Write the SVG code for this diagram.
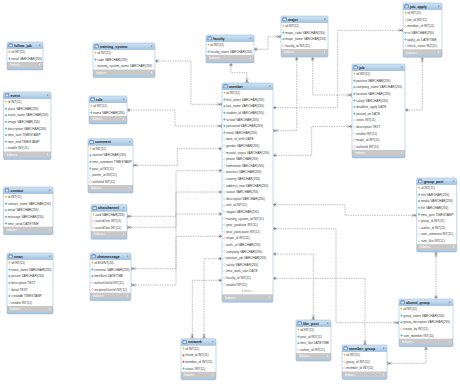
<svg xmlns="http://www.w3.org/2000/svg" width="460" height="384" viewBox="0 0 460 384">
<style>
.bg{fill:#fff}
.hd{fill:url(#hg)}
.bd{fill:none;stroke:#8fb0cf;stroke-width:0.5}
.ft{fill:#c8c8c8}
.bs{fill:#a9c8e4}
.tt{font:bold 3.6px "Liberation Sans",Arial,sans-serif;fill:#1b1b1b}
.r{font:3.15px "Liberation Sans",Arial,sans-serif;fill:#3a3a3a}
.fx{font:3px "Liberation Sans",Arial,sans-serif;fill:#fff}
.mr{font:3px "Liberation Sans",Arial,sans-serif;fill:#9a9a9a;text-anchor:middle}
.cn path{fill:none;stroke:#8a8a8a;stroke-width:0.55;stroke-dasharray:1.5 0.9;marker-start:url(#mn);marker-end:url(#m1)}
</style>
<defs>
<linearGradient id="hg" gradientUnits="userSpaceOnUse" x1="0" y1="0" x2="0" y2="6.7"><stop offset="0" stop-color="#d5e6f4"/><stop offset="1" stop-color="#9fc2e2"/></linearGradient>
<g id="ti"><rect x="1.7" y="1.6" width="3.8" height="3.4" rx="0.4" fill="#5b8fc7" stroke="#2f5f95" stroke-width="0.25"/><rect x="2.3" y="2.5" width="2.6" height="2" fill="#e8f1fa"/></g>
<path id="dd" d="M-0.9,-0.5 H0.9 L0,0.6z" fill="#4a6a8a"/>
<path id="ar" d="M-0.5,-1 L0.6,0 L-0.5,1z" fill="#fff"/>
<g id="k"><circle cx="0" cy="-0.6" r="0.7" fill="#f0c419" stroke="#b8900a" stroke-width="0.2"/><rect x="-0.3" y="-0.2" width="0.6" height="1.4" fill="#f0c419"/></g>
<path id="c" d="M0,-1.1 L1.1,0 L0,1.1 L-1.1,0z" fill="#4fc3d6" stroke="#2a9fb3" stroke-width="0.25"/>
<path id="o" d="M0,-1.1 L1.1,0 L0,1.1 L-1.1,0z" fill="#fff" stroke="#4fc3d6" stroke-width="0.35"/>
<path id="f" d="M0,-1.1 L1.1,0 L0,1.1 L-1.1,0z" fill="#e06060" stroke="#b03030" stroke-width="0.25"/>
<path id="r" d="M0,-1.1 L1.1,0 L0,1.1 L-1.1,0z" fill="#fff" stroke="#e06060" stroke-width="0.35"/>
<marker id="mn" markerUnits="userSpaceOnUse" markerWidth="10" markerHeight="10" viewBox="-5 -5 10 10" refX="0" refY="0" orient="auto-start-reverse" overflow="visible"><path d="M-3,0 L0,-1.6 M-3,0 L0,1.6 M-3,0 H0 M-4,-1.6 V1.6" fill="none" stroke="#555" stroke-width="0.45"/></marker>
<marker id="m1" markerUnits="userSpaceOnUse" markerWidth="10" markerHeight="10" viewBox="-5 -5 10 10" refX="0" refY="0" orient="auto" overflow="visible"><path d="M-1.5,-1.6 V1.6 M-2.8,-1.6 V1.6 M-3,0 H0" fill="none" stroke="#555" stroke-width="0.45"/></marker>
</defs>
<rect width="460" height="384" fill="#fff"/>

<g id="connectors" class="cn">
<path d="M222,104.3 H191 V61 H155"/>
<path d="M222,126 H175 V110 H127"/>
<path d="M247,83 V72.7 H231 V62.9"/>
<path d="M281,36.7 H268 V49.3 H254"/>
<path d="M273,130.7 H296.7 V57.1"/>
<path d="M352,95 H312.7 V57.1"/>
<path d="M352,126.5 H311.7 V155.3 H273"/>
<path d="M422.3,57.3 V110 H405"/>
<path d="M403,30.3 H337.7 V107.7 H273"/>
<path d="M133,165.3 H177.3 V148.7 H222"/>
<path d="M127,216.3 H176 V170.7 H222"/>
<path d="M127,227.3 H176 V192 H222"/>
<path d="M131,268.7 H176 V214 H222"/>
<path d="M131,285 H176 V236.3 H222"/>
<path d="M192.3,338.7 V280.3 H222"/>
<path d="M204,338.7 V258.7 H222"/>
<path d="M313.3,320 V254 H273"/>
<path d="M365,345 V278.3 H273"/>
<path d="M399,322.7 H336 V228.7 H273"/>
<path d="M416.7,215.3 H345 V204.7 H273"/>
<path d="M436,252.1 V299"/>
<path d="M387,363.3 H426 V346.7"/>
</g>

<g id="follow_job" transform="translate(7,42)">
<rect class="bg" width="36" height="27.9" rx="1.5"/>
<rect class="bs" y="24.4" width="36" height="3.5" rx="1.5"/><rect class="ft" y="19.9" width="36" height="6"/>
<rect class="hd" width="36" height="6.7" rx="1.5"/><rect class="hd" y="3" width="36" height="3.7"/>
<use href="#ti"/><text class="tt" x="7" y="4.8">follow_job</text><use href="#dd" x="32.8" y="3.3"/>
<use href="#k" x="2.4" y="10"/><text class="r" x="4.3" y="11.1">id INT(11)</text>
<use href="#c" x="2.4" y="16.6"/><text class="r" x="4.3" y="17.7">email VARCHAR(255)</text>
<text class="fx" x="3" y="24.1">Indexes</text><use href="#ar" x="32.8" y="22.9"/>
<rect class="bd" width="36" height="27.9" rx="1.5"/>
</g>

<g id="event" transform="translate(3.5,92)">
<rect class="bg" width="47.5" height="67.5" rx="1.5"/>
<rect class="bs" y="64" width="47.5" height="3.5" rx="1.5"/><rect class="ft" y="59.5" width="47.5" height="6"/>
<rect class="hd" width="47.5" height="6.7" rx="1.5"/><rect class="hd" y="3" width="47.5" height="3.7"/>
<use href="#ti"/><text class="tt" x="7" y="4.8">event</text><use href="#dd" x="44.3" y="3.3"/>
<use href="#k" x="2.4" y="10"/><text class="r" x="4.3" y="11.1">id INT(11)</text>
<use href="#c" x="2.4" y="16.6"/><text class="r" x="4.3" y="17.7">place VARCHAR(255)</text>
<use href="#c" x="2.4" y="23.2"/><text class="r" x="4.3" y="24.3">event_name VARCHAR(255)</text>
<use href="#c" x="2.4" y="29.8"/><text class="r" x="4.3" y="30.9">image VARCHAR(255)</text>
<use href="#c" x="2.4" y="36.4"/><text class="r" x="4.3" y="37.5">description VARCHAR(255)</text>
<use href="#c" x="2.4" y="43"/><text class="r" x="4.3" y="44.1">time_start TIMESTAMP</text>
<use href="#c" x="2.4" y="49.6"/><text class="r" x="4.3" y="50.7">time_end TIMESTAMP</text>
<use href="#o" x="2.4" y="56.2"/><text class="r" x="4.3" y="57.3">enable INT(11)</text>
<text class="fx" x="3" y="63.7">Indexes</text><use href="#ar" x="44.3" y="62.5"/>
<rect class="bd" width="47.5" height="67.5" rx="1.5"/>
</g>

<g id="training_system" transform="translate(93,43)">
<rect class="bg" width="62" height="34.5" rx="1.5"/>
<rect class="bs" y="31" width="62" height="3.5" rx="1.5"/><rect class="ft" y="26.5" width="62" height="6"/>
<rect class="hd" width="62" height="6.7" rx="1.5"/><rect class="hd" y="3" width="62" height="3.7"/>
<use href="#ti"/><text class="tt" x="7" y="4.8">training_system</text><use href="#dd" x="58.8" y="3.3"/>
<use href="#k" x="2.4" y="10"/><text class="r" x="4.3" y="11.1">id INT(11)</text>
<use href="#c" x="2.4" y="16.6"/><text class="r" x="4.3" y="17.7">code VARCHAR(255)</text>
<use href="#o" x="2.4" y="23.2"/><text class="r" x="4.3" y="24.3">training_system_name VARCHAR(255)</text>
<text class="fx" x="3" y="30.7">Indexes</text><use href="#ar" x="58.8" y="29.5"/>
<rect class="bd" width="62" height="34.5" rx="1.5"/>
</g>

<g id="faculty" transform="translate(206,35)">
<rect class="bg" width="48" height="27.9" rx="1.5"/>
<rect class="bs" y="24.4" width="48" height="3.5" rx="1.5"/><rect class="ft" y="19.9" width="48" height="6"/>
<rect class="hd" width="48" height="6.7" rx="1.5"/><rect class="hd" y="3" width="48" height="3.7"/>
<use href="#ti"/><text class="tt" x="7" y="4.8">faculty</text><use href="#dd" x="44.8" y="3.3"/>
<use href="#k" x="2.4" y="10"/><text class="r" x="4.3" y="11.1">id INT(11)</text>
<use href="#c" x="2.4" y="16.6"/><text class="r" x="4.3" y="17.7">faculty_name VARCHAR(255)</text>
<text class="fx" x="3" y="24.1">Indexes</text><use href="#ar" x="44.8" y="22.9"/>
<rect class="bd" width="48" height="27.9" rx="1.5"/>
</g>

<g id="major" transform="translate(281,16)">
<rect class="bg" width="47" height="41.1" rx="1.5"/>
<rect class="bs" y="37.6" width="47" height="3.5" rx="1.5"/><rect class="ft" y="33.1" width="47" height="6"/>
<rect class="hd" width="47" height="6.7" rx="1.5"/><rect class="hd" y="3" width="47" height="3.7"/>
<use href="#ti"/><text class="tt" x="7" y="4.8">major</text><use href="#dd" x="43.8" y="3.3"/>
<use href="#k" x="2.4" y="10"/><text class="r" x="4.3" y="11.1">id INT(11)</text>
<use href="#c" x="2.4" y="16.6"/><text class="r" x="4.3" y="17.7">major_code VARCHAR(255)</text>
<use href="#c" x="2.4" y="23.2"/><text class="r" x="4.3" y="24.3">major_name VARCHAR(255)</text>
<use href="#r" x="2.4" y="29.8"/><text class="r" x="4.3" y="30.9">faculty_id INT(11)</text>
<text class="fx" x="3" y="37.3">Indexes</text><use href="#ar" x="43.8" y="36.1"/>
<rect class="bd" width="47" height="41.1" rx="1.5"/>
</g>

<g id="job_apply" transform="translate(403,3)">
<rect class="bg" width="39" height="54.3" rx="1.5"/>
<rect class="bs" y="50.8" width="39" height="3.5" rx="1.5"/><rect class="ft" y="46.3" width="39" height="6"/>
<rect class="hd" width="39" height="6.7" rx="1.5"/><rect class="hd" y="3" width="39" height="3.7"/>
<use href="#ti"/><text class="tt" x="7" y="4.8">job_apply</text><use href="#dd" x="35.8" y="3.3"/>
<use href="#k" x="2.4" y="10"/><text class="r" x="4.3" y="11.1">id INT(11)</text>
<use href="#r" x="2.4" y="16.6"/><text class="r" x="4.3" y="17.7">job_id INT(11)</text>
<use href="#r" x="2.4" y="23.2"/><text class="r" x="4.3" y="24.3">member_id INT(11)</text>
<use href="#c" x="2.4" y="29.8"/><text class="r" x="4.3" y="30.9">cv VARCHAR(255)</text>
<use href="#c" x="2.4" y="36.4"/><text class="r" x="4.3" y="37.5">apply_on DATETIME</text>
<use href="#o" x="2.4" y="43"/><text class="r" x="4.3" y="44.1">check_status INT(11)</text>
<text class="fx" x="3" y="50.5">Indexes</text><use href="#ar" x="35.8" y="49.3"/>
<rect class="bd" width="39" height="54.3" rx="1.5"/>
</g>

<g id="job" transform="translate(352,64)">
<rect class="bg" width="53" height="93.9" rx="1.5"/>
<rect class="bs" y="90.4" width="53" height="3.5" rx="1.5"/><rect class="ft" y="85.9" width="53" height="6"/>
<rect class="hd" width="53" height="6.7" rx="1.5"/><rect class="hd" y="3" width="53" height="3.7"/>
<use href="#ti"/><text class="tt" x="7" y="4.8">job</text><use href="#dd" x="49.8" y="3.3"/>
<use href="#k" x="2.4" y="10"/><text class="r" x="4.3" y="11.1">id INT(11)</text>
<use href="#c" x="2.4" y="16.6"/><text class="r" x="4.3" y="17.7">position VARCHAR(255)</text>
<use href="#c" x="2.4" y="23.2"/><text class="r" x="4.3" y="24.3">company_name VARCHAR(255)</text>
<use href="#c" x="2.4" y="29.8"/><text class="r" x="4.3" y="30.9">location VARCHAR(255)</text>
<use href="#c" x="2.4" y="36.4"/><text class="r" x="4.3" y="37.5">salary VARCHAR(255)</text>
<use href="#c" x="2.4" y="43"/><text class="r" x="4.3" y="44.1">deadline_apply DATE</text>
<use href="#c" x="2.4" y="49.6"/><text class="r" x="4.3" y="50.7">posted_on DATE</text>
<use href="#o" x="2.4" y="56.2"/><text class="r" x="4.3" y="57.3">views INT(11)</text>
<use href="#o" x="2.4" y="62.8"/><text class="r" x="4.3" y="63.9">description TEXT</text>
<use href="#o" x="2.4" y="69.4"/><text class="r" x="4.3" y="70.5">enable INT(11)</text>
<use href="#r" x="2.4" y="76"/><text class="r" x="4.3" y="77.1">major_id INT(11)</text>
<use href="#r" x="2.4" y="82.6"/><text class="r" x="4.3" y="83.7">authorId INT(11)</text>
<text class="fx" x="3" y="90.1">Indexes</text><use href="#ar" x="49.8" y="88.9"/>
<rect class="bd" width="53" height="93.9" rx="1.5"/>
</g>

<g id="role" transform="translate(89,96)">
<rect class="bg" width="38" height="27.9" rx="1.5"/>
<rect class="bs" y="24.4" width="38" height="3.5" rx="1.5"/><rect class="ft" y="19.9" width="38" height="6"/>
<rect class="hd" width="38" height="6.7" rx="1.5"/><rect class="hd" y="3" width="38" height="3.7"/>
<use href="#ti"/><text class="tt" x="7" y="4.8">role</text><use href="#dd" x="34.8" y="3.3"/>
<use href="#k" x="2.4" y="10"/><text class="r" x="4.3" y="11.1">id INT(11)</text>
<use href="#c" x="2.4" y="16.6"/><text class="r" x="4.3" y="17.7">name VARCHAR(255)</text>
<text class="fx" x="3" y="24.1">Indexes</text><use href="#ar" x="34.8" y="22.9"/>
<rect class="bd" width="38" height="27.9" rx="1.5"/>
</g>

<g id="member" transform="translate(222,83)">
<rect class="bg" width="51" height="219.3" rx="1.5"/>
<rect class="bs" y="215.8" width="51" height="3.5" rx="1.5"/><rect class="ft" y="211.3" width="51" height="6"/>
<rect class="hd" width="51" height="6.7" rx="1.5"/><rect class="hd" y="3" width="51" height="3.7"/>
<use href="#ti"/><text class="tt" x="7" y="4.8">member</text><use href="#dd" x="47.8" y="3.3"/>
<use href="#k" x="2.4" y="10"/><text class="r" x="4.3" y="11.1">id INT(11)</text>
<use href="#c" x="2.4" y="16.6"/><text class="r" x="4.3" y="17.7">first_name VARCHAR(255)</text>
<use href="#c" x="2.4" y="23.2"/><text class="r" x="4.3" y="24.3">last_name VARCHAR(255)</text>
<use href="#c" x="2.4" y="29.8"/><text class="r" x="4.3" y="30.9">student_id VARCHAR(255)</text>
<use href="#c" x="2.4" y="36.4"/><text class="r" x="4.3" y="37.5">school VARCHAR(255)</text>
<use href="#c" x="2.4" y="43"/><text class="r" x="4.3" y="44.1">password VARCHAR(255)</text>
<use href="#c" x="2.4" y="49.6"/><text class="r" x="4.3" y="50.7">email VARCHAR(255)</text>
<use href="#o" x="2.4" y="56.2"/><text class="r" x="4.3" y="57.3">date_of_birth DATE</text>
<use href="#o" x="2.4" y="62.8"/><text class="r" x="4.3" y="63.9">gender VARCHAR(255)</text>
<use href="#o" x="2.4" y="69.4"/><text class="r" x="4.3" y="70.5">marital_status VARCHAR(255)</text>
<use href="#o" x="2.4" y="76"/><text class="r" x="4.3" y="77.1">phone VARCHAR(255)</text>
<use href="#o" x="2.4" y="82.6"/><text class="r" x="4.3" y="83.7">hometown VARCHAR(255)</text>
<use href="#o" x="2.4" y="89.2"/><text class="r" x="4.3" y="90.3">province VARCHAR(255)</text>
<use href="#o" x="2.4" y="95.8"/><text class="r" x="4.3" y="96.9">country VARCHAR(255)</text>
<use href="#o" x="2.4" y="102.4"/><text class="r" x="4.3" y="103.5">address_now VARCHAR(255)</text>
<use href="#o" x="2.4" y="109"/><text class="r" x="4.3" y="110.1">avatar VARCHAR(255)</text>
<use href="#o" x="2.4" y="115.6"/><text class="r" x="4.3" y="116.7">description VARCHAR(255)</text>
<use href="#r" x="2.4" y="122.2"/><text class="r" x="4.3" y="123.3">role_id INT(11)</text>
<use href="#o" x="2.4" y="128.8"/><text class="r" x="4.3" y="129.9">slogan VARCHAR(255)</text>
<use href="#r" x="2.4" y="135.4"/><text class="r" x="4.3" y="136.5">training_system_id INT(11)</text>
<use href="#o" x="2.4" y="142"/><text class="r" x="4.3" y="143.1">year_graduate INT(11)</text>
<use href="#o" x="2.4" y="148.6"/><text class="r" x="4.3" y="149.7">year_participate INT(11)</text>
<use href="#r" x="2.4" y="155.2"/><text class="r" x="4.3" y="156.3">major_id INT(11)</text>
<use href="#o" x="2.4" y="161.8"/><text class="r" x="4.3" y="162.9">work_at VARCHAR(255)</text>
<use href="#o" x="2.4" y="168.4"/><text class="r" x="4.3" y="169.5">company VARCHAR(255)</text>
<use href="#o" x="2.4" y="175"/><text class="r" x="4.3" y="176.1">position_job VARCHAR(255)</text>
<use href="#o" x="2.4" y="181.6"/><text class="r" x="4.3" y="182.7">salary VARCHAR(255)</text>
<use href="#o" x="2.4" y="188.2"/><text class="r" x="4.3" y="189.3">time_work_start DATE</text>
<use href="#r" x="2.4" y="194.8"/><text class="r" x="4.3" y="195.9">faculty_id INT(11)</text>
<use href="#o" x="2.4" y="201.4"/><text class="r" x="4.3" y="202.5">enable INT(11)</text>
<text class="mr" x="25.5" y="209.1">3 more...</text>
<text class="fx" x="3" y="215.5">Indexes</text><use href="#ar" x="47.8" y="214.3"/>
<rect class="bd" width="51" height="219.3" rx="1.5"/>
</g>

<g id="comment" transform="translate(88,138.7)">
<rect class="bg" width="45" height="54.3" rx="1.5"/>
<rect class="bs" y="50.8" width="45" height="3.5" rx="1.5"/><rect class="ft" y="46.3" width="45" height="6"/>
<rect class="hd" width="45" height="6.7" rx="1.5"/><rect class="hd" y="3" width="45" height="3.7"/>
<use href="#ti"/><text class="tt" x="7" y="4.8">comment</text><use href="#dd" x="41.8" y="3.3"/>
<use href="#k" x="2.4" y="10"/><text class="r" x="4.3" y="11.1">id INT(11)</text>
<use href="#c" x="2.4" y="16.6"/><text class="r" x="4.3" y="17.7">content VARCHAR(255)</text>
<use href="#c" x="2.4" y="23.2"/><text class="r" x="4.3" y="24.3">time_comment TIMESTAMP</text>
<use href="#c" x="2.4" y="29.8"/><text class="r" x="4.3" y="30.9">post_id INT(11)</text>
<use href="#o" x="2.4" y="36.4"/><text class="r" x="4.3" y="37.5">parent_id INT(11)</text>
<use href="#r" x="2.4" y="43"/><text class="r" x="4.3" y="44.1">authorId INT(11)</text>
<text class="fx" x="3" y="50.5">Indexes</text><use href="#ar" x="41.8" y="49.3"/>
<rect class="bd" width="45" height="54.3" rx="1.5"/>
</g>

<g id="contact" transform="translate(3.5,187)">
<rect class="bg" width="49.5" height="47.7" rx="1.5"/>
<rect class="bs" y="44.2" width="49.5" height="3.5" rx="1.5"/><rect class="ft" y="39.7" width="49.5" height="6"/>
<rect class="hd" width="49.5" height="6.7" rx="1.5"/><rect class="hd" y="3" width="49.5" height="3.7"/>
<use href="#ti"/><text class="tt" x="7" y="4.8">contact</text><use href="#dd" x="46.3" y="3.3"/>
<use href="#k" x="2.4" y="10"/><text class="r" x="4.3" y="11.1">id INT(11)</text>
<use href="#c" x="2.4" y="16.6"/><text class="r" x="4.3" y="17.7">contact_name VARCHAR(255)</text>
<use href="#c" x="2.4" y="23.2"/><text class="r" x="4.3" y="24.3">email VARCHAR(255)</text>
<use href="#c" x="2.4" y="29.8"/><text class="r" x="4.3" y="30.9">message VARCHAR(255)</text>
<use href="#c" x="2.4" y="36.4"/><text class="r" x="4.3" y="37.5">time_send DATETIME</text>
<text class="fx" x="3" y="43.9">Indexes</text><use href="#ar" x="46.3" y="42.7"/>
<rect class="bd" width="49.5" height="47.7" rx="1.5"/>
</g>

<g id="chatchannel" transform="translate(91,204.7)">
<rect class="bg" width="36" height="34.5" rx="1.5"/>
<rect class="bs" y="31" width="36" height="3.5" rx="1.5"/><rect class="ft" y="26.5" width="36" height="6"/>
<rect class="hd" width="36" height="6.7" rx="1.5"/><rect class="hd" y="3" width="36" height="3.7"/>
<use href="#ti"/><text class="tt" x="7" y="4.8">chatchannel</text><use href="#dd" x="32.8" y="3.3"/>
<use href="#k" x="2.4" y="10"/><text class="r" x="4.3" y="11.1">uuid VARCHAR(255)</text>
<use href="#r" x="2.4" y="16.6"/><text class="r" x="4.3" y="17.7">userIdOne INT(11)</text>
<use href="#r" x="2.4" y="23.2"/><text class="r" x="4.3" y="24.3">userIdTwo INT(11)</text>
<text class="fx" x="3" y="30.7">Indexes</text><use href="#ar" x="32.8" y="29.5"/>
<rect class="bd" width="36" height="34.5" rx="1.5"/>
</g>

<g id="news" transform="translate(7,253)">
<rect class="bg" width="46" height="60.9" rx="1.5"/>
<rect class="bs" y="57.4" width="46" height="3.5" rx="1.5"/><rect class="ft" y="52.9" width="46" height="6"/>
<rect class="hd" width="46" height="6.7" rx="1.5"/><rect class="hd" y="3" width="46" height="3.7"/>
<use href="#ti"/><text class="tt" x="7" y="4.8">news</text><use href="#dd" x="42.8" y="3.3"/>
<use href="#k" x="2.4" y="10"/><text class="r" x="4.3" y="11.1">id INT(11)</text>
<use href="#c" x="2.4" y="16.6"/><text class="r" x="4.3" y="17.7">news_name VARCHAR(255)</text>
<use href="#c" x="2.4" y="23.2"/><text class="r" x="4.3" y="24.3">picture VARCHAR(255)</text>
<use href="#c" x="2.4" y="29.8"/><text class="r" x="4.3" y="30.9">description TEXT</text>
<use href="#o" x="2.4" y="36.4"/><text class="r" x="4.3" y="37.5">detail TEXT</text>
<use href="#c" x="2.4" y="43"/><text class="r" x="4.3" y="44.1">createAt TIMESTAMP</text>
<use href="#o" x="2.4" y="49.6"/><text class="r" x="4.3" y="50.7">enable INT(11)</text>
<text class="fx" x="3" y="57.1">Indexes</text><use href="#ar" x="42.8" y="55.9"/>
<rect class="bd" width="46" height="60.9" rx="1.5"/>
</g>

<g id="chatmessage" transform="translate(90,253)">
<rect class="bg" width="41" height="47.7" rx="1.5"/>
<rect class="bs" y="44.2" width="41" height="3.5" rx="1.5"/><rect class="ft" y="39.7" width="41" height="6"/>
<rect class="hd" width="41" height="6.7" rx="1.5"/><rect class="hd" y="3" width="41" height="3.7"/>
<use href="#ti"/><text class="tt" x="7" y="4.8">chatmessage</text><use href="#dd" x="37.8" y="3.3"/>
<use href="#k" x="2.4" y="10"/><text class="r" x="4.3" y="11.1">id BIGINT(20)</text>
<use href="#c" x="2.4" y="16.6"/><text class="r" x="4.3" y="17.7">contents VARCHAR(255)</text>
<use href="#c" x="2.4" y="23.2"/><text class="r" x="4.3" y="24.3">timeSent DATETIME</text>
<use href="#r" x="2.4" y="29.8"/><text class="r" x="4.3" y="30.9">authorUserId INT(11)</text>
<use href="#r" x="2.4" y="36.4"/><text class="r" x="4.3" y="37.5">recipientUserId INT(11)</text>
<text class="fx" x="3" y="43.9">Indexes</text><use href="#ar" x="37.8" y="42.7"/>
<rect class="bd" width="41" height="47.7" rx="1.5"/>
</g>

<g id="network" transform="translate(181,338.7)">
<rect class="bg" width="35" height="41.1" rx="1.5"/>
<rect class="bs" y="37.6" width="35" height="3.5" rx="1.5"/><rect class="ft" y="33.1" width="35" height="6"/>
<rect class="hd" width="35" height="6.7" rx="1.5"/><rect class="hd" y="3" width="35" height="3.7"/>
<use href="#ti"/><text class="tt" x="7" y="4.8">network</text><use href="#dd" x="31.8" y="3.3"/>
<use href="#k" x="2.4" y="10"/><text class="r" x="4.3" y="11.1">id INT(11)</text>
<use href="#f" x="2.4" y="16.6"/><text class="r" x="4.3" y="17.7">friend_id INT(11)</text>
<use href="#f" x="2.4" y="23.2"/><text class="r" x="4.3" y="24.3">member_id INT(11)</text>
<use href="#c" x="2.4" y="29.8"/><text class="r" x="4.3" y="30.9">status INT(11)</text>
<text class="fx" x="3" y="37.3">Indexes</text><use href="#ar" x="31.8" y="36.1"/>
<rect class="bd" width="35" height="41.1" rx="1.5"/>
</g>

<g id="like_post" transform="translate(296,320)">
<rect class="bg" width="35" height="41.1" rx="1.5"/>
<rect class="bs" y="37.6" width="35" height="3.5" rx="1.5"/><rect class="ft" y="33.1" width="35" height="6"/>
<rect class="hd" width="35" height="6.7" rx="1.5"/><rect class="hd" y="3" width="35" height="3.7"/>
<use href="#ti"/><text class="tt" x="7" y="4.8">like_post</text><use href="#dd" x="31.8" y="3.3"/>
<use href="#k" x="2.4" y="10"/><text class="r" x="4.3" y="11.1">id INT(11)</text>
<use href="#c" x="2.4" y="16.6"/><text class="r" x="4.3" y="17.7">post_id INT(11)</text>
<use href="#c" x="2.4" y="23.2"/><text class="r" x="4.3" y="24.3">time_like DATETIME</text>
<use href="#r" x="2.4" y="29.8"/><text class="r" x="4.3" y="30.9">author_id INT(11)</text>
<text class="fx" x="3" y="37.3">Indexes</text><use href="#ar" x="31.8" y="36.1"/>
<rect class="bd" width="35" height="41.1" rx="1.5"/>
</g>

<g id="member_group" transform="translate(342,345)">
<rect class="bg" width="45" height="34.5" rx="1.5"/>
<rect class="bs" y="31" width="45" height="3.5" rx="1.5"/><rect class="ft" y="26.5" width="45" height="6"/>
<rect class="hd" width="45" height="6.7" rx="1.5"/><rect class="hd" y="3" width="45" height="3.7"/>
<use href="#ti"/><text class="tt" x="7" y="4.8">member_group</text><use href="#dd" x="41.8" y="3.3"/>
<use href="#k" x="2.4" y="10"/><text class="r" x="4.3" y="11.1">id INT(11)</text>
<use href="#r" x="2.4" y="16.6"/><text class="r" x="4.3" y="17.7">group_id INT(11)</text>
<use href="#r" x="2.4" y="23.2"/><text class="r" x="4.3" y="24.3">member_id INT(11)</text>
<text class="fx" x="3" y="30.7">Indexes</text><use href="#ar" x="41.8" y="29.5"/>
<rect class="bd" width="45" height="34.5" rx="1.5"/>
</g>

<g id="alumni_group" transform="translate(399,299)">
<rect class="bg" width="54" height="47.7" rx="1.5"/>
<rect class="bs" y="44.2" width="54" height="3.5" rx="1.5"/><rect class="ft" y="39.7" width="54" height="6"/>
<rect class="hd" width="54" height="6.7" rx="1.5"/><rect class="hd" y="3" width="54" height="3.7"/>
<use href="#ti"/><text class="tt" x="7" y="4.8">alumni_group</text><use href="#dd" x="50.8" y="3.3"/>
<use href="#k" x="2.4" y="10"/><text class="r" x="4.3" y="11.1">id INT(11)</text>
<use href="#c" x="2.4" y="16.6"/><text class="r" x="4.3" y="17.7">group_name VARCHAR(255)</text>
<use href="#c" x="2.4" y="23.2"/><text class="r" x="4.3" y="24.3">group_decription VARCHAR(255)</text>
<use href="#r" x="2.4" y="29.8"/><text class="r" x="4.3" y="30.9">create_by INT(11)</text>
<use href="#c" x="2.4" y="36.4"/><text class="r" x="4.3" y="37.5">sum_member INT(11)</text>
<text class="fx" x="3" y="43.9">Indexes</text><use href="#ar" x="50.8" y="42.7"/>
<rect class="bd" width="54" height="47.7" rx="1.5"/>
</g>

<g id="group_post" transform="translate(416.7,178)">
<rect class="bg" width="40" height="74.1" rx="1.5"/>
<rect class="bs" y="70.6" width="40" height="3.5" rx="1.5"/><rect class="ft" y="66.1" width="40" height="6"/>
<rect class="hd" width="40" height="6.7" rx="1.5"/><rect class="hd" y="3" width="40" height="3.7"/>
<use href="#ti"/><text class="tt" x="7" y="4.8">group_post</text><use href="#dd" x="36.8" y="3.3"/>
<use href="#k" x="2.4" y="10"/><text class="r" x="4.3" y="11.1">id INT(11)</text>
<use href="#c" x="2.4" y="16.6"/><text class="r" x="4.3" y="17.7">title VARCHAR(255)</text>
<use href="#c" x="2.4" y="23.2"/><text class="r" x="4.3" y="24.3">media VARCHAR(255)</text>
<use href="#c" x="2.4" y="29.8"/><text class="r" x="4.3" y="30.9">file VARCHAR(255)</text>
<use href="#c" x="2.4" y="36.4"/><text class="r" x="4.3" y="37.5">time_post TIMESTAMP</text>
<use href="#r" x="2.4" y="43"/><text class="r" x="4.3" y="44.1">group_id INT(11)</text>
<use href="#r" x="2.4" y="49.6"/><text class="r" x="4.3" y="50.7">author_id INT(11)</text>
<use href="#o" x="2.4" y="56.2"/><text class="r" x="4.3" y="57.3">sum_comment INT(11)</text>
<use href="#o" x="2.4" y="62.8"/><text class="r" x="4.3" y="63.9">sum_like INT(11)</text>
<text class="fx" x="3" y="70.3">Indexes</text><use href="#ar" x="36.8" y="69.1"/>
<rect class="bd" width="40" height="74.1" rx="1.5"/>
</g>
</svg>
